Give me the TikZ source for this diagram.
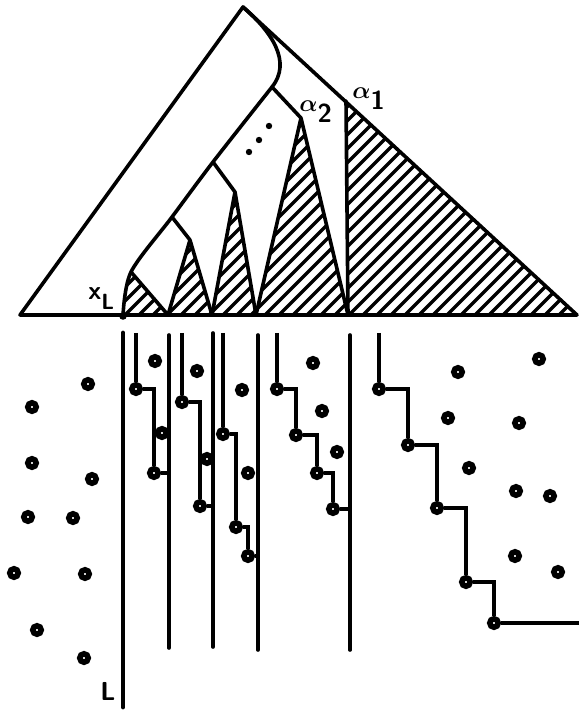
\documentclass[tikz,border=0pt]{standalone}
\usetikzlibrary{calc}
\usepackage{bm}
\tikzset{
	edge/.style = {line width = 1.8pt, line join = round, line cap = round},
	hatch/.style = {line width = 1.6pt},
	lane/.style = {line width = 1.8pt, line cap = round},
	lanemain/.style = {line width = 2.4pt, line cap = round},
	stair/.style = {line width = 1.8pt, line join = miter},
	pt/.style = {circle, draw, fill = white, line width = 2.8pt, inner sep = 0pt, minimum size = 4.2pt},
	lbl/.style = {inner sep = 0pt, font = \fontsize{13}{15}\selectfont},
	tag/.style = {inner sep = 0pt, font = \fontsize{13}{15}\selectfont\sffamily\bfseries}
}
\begin{document}
\begin{tikzpicture}[x = 0.5pt, y = -0.5pt]
	\useasboundingbox (0,0) rectangle (579,710);
	% triangle
	\coordinate (apex) at (243,7);
	\coordinate (lc) at (20,315);
	\coordinate (rc) at (577,315);
	\coordinate (j1) at (272,87);
	\coordinate (j2) at (213,162);
	\coordinate (j3) at (172,217);
	\coordinate (j4) at (131,272);
	\coordinate (xl) at (123,316);
	\coordinate (s1) at (190,240);
	\coordinate (s2) at (235,192);
	\coordinate (s3) at (301,118);
	\coordinate (a1) at (346,101);
	\coordinate (q0) at (168,315);
	\coordinate (q1) at (212,315);
	\coordinate (q2) at (256,315);
	\coordinate (q3) at (348,315);
	\begin{scope}
		\clip (j4) -- (q0) -- (xl) -- (125.5,294) -- cycle
			(s1) -- (q1) -- (q0) -- cycle
			(s2) -- (q2) -- (q1) -- cycle
			(s3) -- (q3) -- (q2) -- cycle
			(a1) -- (rc) -- (q3) -- cycle;
		\foreach \c in {370,384,...,910}
			\draw [hatch] (\c-330,330) -- (\c,0);
	\end{scope}
	\draw [edge] (lc) -- (apex) -- (rc) -- cycle;
	\draw [edge] (apex) .. controls (272,32) and (292,62) .. (j1);
	\draw [edge] plot [smooth] coordinates {(j1) (j2) (j3) (j4) (xl)};
	\draw [edge] (j4) -- (q0);
	\draw [edge] (j3) -- (s1) -- (q0) (s1) -- (q1);
	\draw [edge] (j2) -- (s2) -- (q1) (s2) -- (q2);
	\draw [edge] (j1) -- (s3) -- (q2) (s3) -- (q3);
	\draw [edge] (a1) -- (q3);
	\fill (xl) circle (1.9pt);
	\foreach \px/\py in {249/152, 259/140, 269/126}
		\fill (\px,\py) circle (1.6pt);
	\node [tag, anchor = base west] (xlab) at (88,300) {x\raisebox{-5pt}{\fontsize{11}{13}\selectfont L}};
	\node [lbl, anchor = base west] (alab2) at (299,112) {$\bm{\alpha}_{\textstyle\textsf{\textbf{2}}}$};
	\node [lbl, anchor = base west] (alab1) at (352,99) {$\bm{\alpha}_{\textstyle\textsf{\textbf{1}}}$};
	% lanes
	\coordinate (lT) at (123,333);
	\coordinate (lB) at (123,707);
	\coordinate (aT) at (169,335);
	\coordinate (aB) at (169,648);
	\coordinate (bT) at (213,333);
	\coordinate (bB) at (213,647);
	\coordinate (cT) at (258,335);
	\coordinate (cB) at (258,650);
	\coordinate (dT) at (350,335);
	\coordinate (dB) at (350,650);
	\draw [lanemain] (lT) -- (lB);
	\draw [lane] (aT) -- (aB);
	\draw [lane] (bT) -- (bB);
	\draw [lane] (cT) -- (cB);
	\draw [lane] (dT) -- (dB);
	\node [tag, anchor = base west] (llab) at (100,700) {L};
	% staircases
	\node [pt] (p11) at (136,389) {};
	\node [pt] (p12) at (154,473) {};
	\node [pt] (p21) at (182,402) {};
	\node [pt] (p22) at (200,506) {};
	\node [pt] (p31) at (223,434) {};
	\node [pt] (p32) at (236,527) {};
	\node [pt] (p33) at (248,556) {};
	\node [pt] (p41) at (277,389) {};
	\node [pt] (p42) at (296,435) {};
	\node [pt] (p43) at (317,473) {};
	\node [pt] (p44) at (333,509) {};
	\node [pt] (p51) at (379,389) {};
	\node [pt] (p52) at (408,445) {};
	\node [pt] (p53) at (437,508) {};
	\node [pt] (p54) at (466,582) {};
	\node [pt] (p55) at (494,623) {};
	\coordinate (t1) at (136,333);
	\coordinate (t2) at (182,333);
	\coordinate (t3) at (223,333);
	\coordinate (t4) at (277,333);
	\coordinate (t5) at (379,333);
	\coordinate (e5) at (579,623);
	\draw [stair] (t1) -- (p11);
	\draw [stair] (p11) -| (p12);
	\draw [stair] (p12) -- (p12 -| aT);
	\draw [stair] (t2) -- (p21);
	\draw [stair] (p21) -| (p22);
	\draw [stair] (p22) -- (p22 -| bT);
	\draw [stair] (t3) -- (p31);
	\draw [stair] (p31) -| (p32);
	\draw [stair] (p32) -| (p33);
	\draw [stair] (p33) -- (p33 -| cT);
	\draw [stair] (t4) -- (p41);
	\draw [stair] (p41) -| (p42);
	\draw [stair] (p42) -| (p43);
	\draw [stair] (p43) -| (p44);
	\draw [stair] (p44) -- (p44 -| dT);
	\draw [stair] (t5) -- (p51);
	\draw [stair] (p51) -| (p52);
	\draw [stair] (p52) -| (p53);
	\draw [stair] (p53) -| (p54);
	\draw [stair] (p54) -| (p55);
	\draw [stair] (p55) -- (e5);
	% loose points
	\foreach \px/\py [count = \i] in {88/384, 32/407, 32/463, 92/479, 28/517, 73/518, 14/573, 85/574, 37/630, 84/658,
		155/361, 162/433, 197/371, 207/459, 242/390, 248/473, 313/363, 322/411, 337/452,
		458/372, 539/359, 448/418, 519/423, 469/468, 516/491, 550/496, 515/556, 558/572}
		\node [pt] (d\i) at (\px,\py) {};
\end{tikzpicture}
\end{document}
